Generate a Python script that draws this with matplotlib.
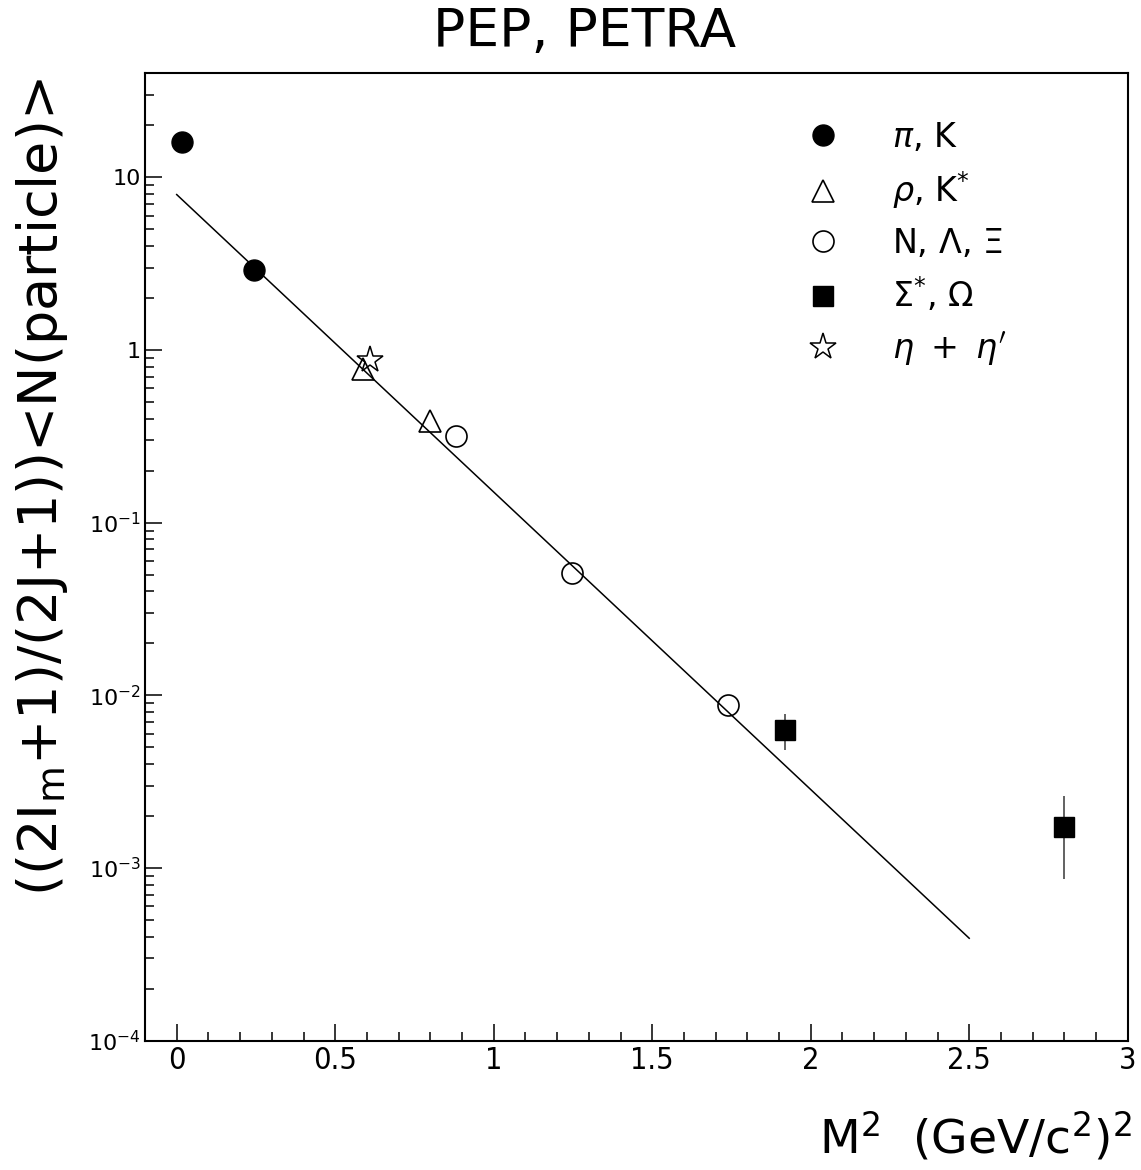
import matplotlib
matplotlib.use("Agg")
import matplotlib.pyplot as plt
from matplotlib.ticker import MultipleLocator, LogLocator, NullFormatter, FixedLocator
import numpy as np

# ---- data ----
pik_x = [0.017, 0.244]
pik_y = [16.0, 2.89]

rho_x = [0.587, 0.799]
rho_y = [0.78, 0.39]

bar_x = [0.881, 1.246, 1.739]
bar_y = [0.316, 0.0509, 0.00877]

sig_x = [1.919, 2.80]
sig_y = [0.0063, 0.00173]
sig_lo = [0.00483, 0.00086]
sig_hi = [0.00782, 0.0026]

eta_x = [0.609]
eta_y = [0.87]

fit_x = [0.0, 2.5]
fit_y = [7.94, 3.92e-4]

xticks = [0, 0.5, 1, 1.5, 2, 2.5, 3]
xticklabels = ["0", "0.5", "1", "1.5", "2", "2.5", "3"]
yticks = [1e-4, 1e-3, 1e-2, 1e-1, 1, 10]
yticklabels = [r"$10^{-4}$", r"$10^{-3}$", r"$10^{-2}$", r"$10^{-1}$", "1", "10"]

W, H = 1141, 1170
fig = plt.figure(figsize=(W / 100, H / 100), dpi=100)
ax = fig.add_axes([145 / W, 1 - 1040.7 / H, (1127.7 - 145) / W, (1040.7 - 73.3) / H])

ms = 21 * 0.72  # marker size in points
ax.plot(fit_x, fit_y, color="black", lw=1.1, zorder=1)

ax.plot(pik_x, pik_y, "o", ms=ms, mfc="black", mec="black", label=r"$\pi$, K", zorder=3)
ax.plot(rho_x, rho_y, "^", ms=ms * 1.05, mfc="none", mec="black", mew=1.2, label=r"$\rho$, K$^{*}$", zorder=3)
ax.plot(bar_x, bar_y, "o", ms=ms, mfc="none", mec="black", mew=1.2, label=r"N, $\Lambda$, $\Xi$", zorder=3)
yerr = [np.array(sig_y) - np.array(sig_lo), np.array(sig_hi) - np.array(sig_y)]
ax.errorbar(sig_x, sig_y, yerr=yerr, fmt="none", ecolor="#555555", elinewidth=1.3, capsize=0, zorder=2)
ax.plot(sig_x, sig_y, "s", ms=ms * 0.95, mfc="black", mec="black", label=r"$\Sigma^{*}$, $\Omega$", zorder=3)
ax.plot(eta_x, eta_y, "*", ms=ms * 1.35, mfc="none", mec="black", mew=1.1, label=r"$\eta\ +\ \eta^{\prime}$", zorder=4)

ax.set_yscale("log")
ax.set_xlim(-0.1, 3.0)
ax.set_ylim(1e-4, 40)

ax.xaxis.set_major_locator(FixedLocator(xticks))
ax.set_xticklabels(xticklabels)
ax.xaxis.set_minor_locator(MultipleLocator(0.1))
ax.yaxis.set_major_locator(FixedLocator(yticks))
ax.set_yticklabels(yticklabels)
ax.yaxis.set_minor_locator(LogLocator(base=10, subs=np.arange(2, 10)))
ax.yaxis.set_minor_formatter(NullFormatter())

ax.tick_params(which="both", direction="in", top=False, right=False, width=1.1, color="black")
ax.tick_params(which="major", length=12.5)
ax.tick_params(which="minor", length=6.5)
ax.tick_params(axis="x", which="major", pad=4, labelsize=22)
ax.tick_params(axis="y", which="major", pad=3, labelsize=16)
for lab in ax.get_xticklabels():
    lab.set_family("DejaVu Sans")
    lab.set_stretch("condensed")
for sp in ax.spines.values():
    sp.set_linewidth(1.5)

leg = ax.legend(loc="upper left", bbox_to_anchor=(0.6726, 0.951), frameon=False,
                fontsize=24, handlelength=1.0, handletextpad=1.58, labelspacing=0.47,
                borderaxespad=0, borderpad=0, numpoints=1)

fig.text(585 / W, 1 - 32 / H, "PEP, PETRA", ha="center", va="center", fontsize=38.5)
fig.text(42 / W, 1 - 78 / H, r"((2I$_\mathrm{m}$+1)/(2J+1))<N(particle)>", rotation=90,
         ha="center", va="top", fontsize=39)
fig.text(1132 / W, 1 - 1137 / H, r"M$^2$  (GeV/c$^2$)$^2$", ha="right", va="center", fontsize=34)

fig.savefig("out.png", dpi=100)
